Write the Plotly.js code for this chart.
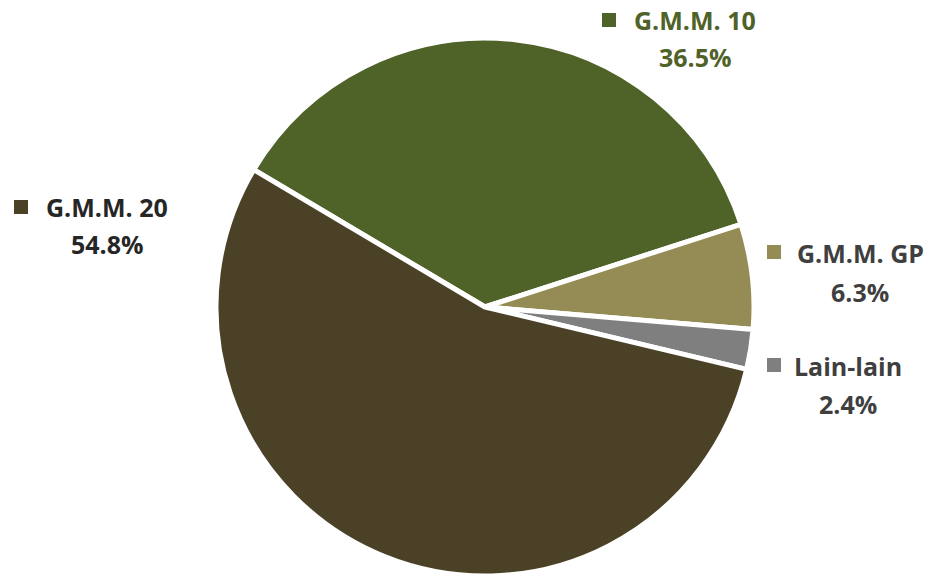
<!DOCTYPE html>
<html>
<head>
<meta charset="utf-8">
<script src="https://cdn.plot.ly/plotly-3.0.1.min.js"></script>
<style>html,body{margin:0;padding:0;background:#fff;}#chart{width:935px;height:576px;}</style>
</head>
<body>
<div id="chart"></div>
<script>
var labels = ["G.M.M. 10", "G.M.M. GP", "Lain-lain", "G.M.M. 20"];
var values = [36.5, 6.3, 2.4, 54.8];
var sliceColors = ["#4F6228", "#958B55", "#7F7F7F", "#4A4127"];
var labelTextColors = ["#4F6228", "#3F3F3F", "#3F3F3F", "#262626"];

// label layout in pixels (square center x/y, text center x, line1 y, line2 y)
var labelPos = [
  {sqx: 609, sqy: 20,  tx: 695, y1: 20,  y2: 57},
  {sqx: 774, sqy: 252, tx: 860, y1: 253, y2: 292},
  {sqx: 774, sqy: 365, tx: 848, y1: 366, y2: 404},
  {sqx: 21,  sqy: 207, tx: 107, y1: 207, y2: 244}
];

var W = 935, H = 576, SQ = 14;
var font = "'Open Sans', 'Liberation Sans', sans-serif";
var annotations = [], shapes = [];
labels.forEach(function(lab, i) {
  var p = labelPos[i];
  shapes.push({
    type: 'rect', xref: 'paper', yref: 'paper',
    x0: (p.sqx - SQ / 2) / W, x1: (p.sqx + SQ / 2) / W,
    y0: 1 - (p.sqy + SQ / 2) / H, y1: 1 - (p.sqy - SQ / 2) / H,
    fillcolor: sliceColors[i], line: {width: 0}
  });
  annotations.push({
    xref: 'paper', yref: 'paper', x: p.tx / W, y: 1 - p.y1 / H,
    text: '<b>' + lab + '</b>', showarrow: false, xanchor: 'center', yanchor: 'middle',
    font: {family: font, size: 25, color: labelTextColors[i]}
  });
  annotations.push({
    xref: 'paper', yref: 'paper', x: p.tx / W, y: 1 - p.y2 / H,
    text: '<b>' + values[i].toFixed(1) + '%</b>', showarrow: false, xanchor: 'center', yanchor: 'middle',
    font: {family: font, size: 25, color: labelTextColors[i]}
  });
});

var trace = {
  type: 'pie',
  labels: labels,
  values: values,
  sort: false,
  direction: 'clockwise',
  rotation: -59.3,
  marker: {colors: sliceColors, line: {color: '#ffffff', width: 5}},
  textinfo: 'none',
  hoverinfo: 'label+percent',
  domain: {x: [(485 - 269) / W, (485 + 269) / W], y: [0, 538 / H]},
  showlegend: false
};

var layout = {
  width: W, height: H,
  margin: {l: 0, r: 0, t: 0, b: 0},
  paper_bgcolor: '#ffffff',
  showlegend: false,
  annotations: annotations,
  shapes: shapes
};

Plotly.newPlot('chart', [trace], layout, {displayModeBar: false, staticPlot: true});
</script>
</body>
</html>
